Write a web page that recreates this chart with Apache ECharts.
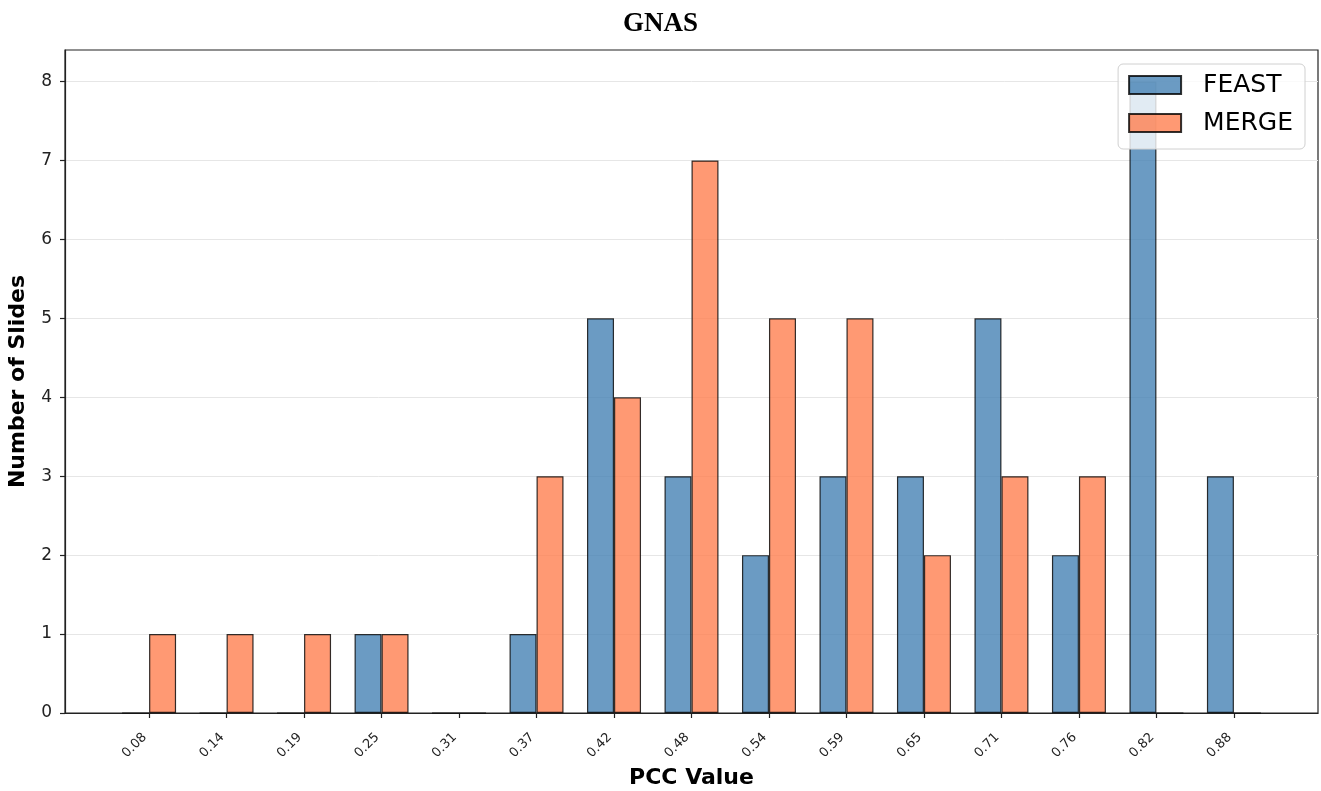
<!DOCTYPE html>
<html>
<head>
<meta charset="utf-8">
<script src="https://cdn.jsdelivr.net/npm/echarts@6/dist/echarts.min.js"></script>
<style>
html,body{margin:0;padding:0;background:#fff;}
#chart{width:1321px;height:791px;}
</style>
</head>
<body>
<div id="chart"></div>
<script>
var categories = ['0.08','0.14','0.19','0.25','0.31','0.37','0.42','0.48','0.54','0.59','0.65','0.71','0.76','0.82','0.88'];
var feast = [0,0,0,1,0,1,5,3,2,3,3,5,2,8,3];
var merge = [1,1,1,1,0,3,4,7,5,5,2,3,3,0,0];
var yTicks = [0,1,2,3,4,5,6,7,8];

var idx = categories.map(function(c,i){return i;});
function pairs(arr){ return arr.map(function(v,i){ return [i, v]; }); }

var chart = echarts.init(document.getElementById('chart'), null, {renderer:'canvas'});
var font = 'DejaVu Sans';
chart.setOption({
  animation:false,
  backgroundColor:'#fff',
  title:{
    text:'GNAS', left:'center', top:6,
    textStyle:{fontFamily:'Liberation Serif', fontWeight:'bold', fontSize:27, color:'#000'}
  },
  grid:{left:65, right:3, top:50, bottom:78, containLabel:false, outerBoundsMode:'none',
    show:true, borderColor:'#222', borderWidth:1.2, backgroundColor:'transparent'},
  legend:{
    orient:'vertical', right:16, top:64, icon:'rect',
    padding:[8,12,13,10], itemGap:12, itemWidth:52, itemHeight:18,
    backgroundColor:'rgba(255,255,255,0.8)', borderColor:'#d0d0d0', borderWidth:1, borderRadius:5,
    textStyle:{fontFamily:font, fontSize:25, lineHeight:26, color:'#000', padding:[0,0,0,17]},
    data:['FEAST','MERGE']
  },
  xAxis:{
    type:'value', min:-1.085, max:15.085,
    name:'PCC Value', nameLocation:'middle', nameGap:51,
    nameTextStyle:{fontFamily:font, fontWeight:'bold', fontSize:22, color:'#000'},
    axisLine:{show:true, onZero:false, lineStyle:{color:'#222', width:1.2}},
    axisTick:{show:true, length:5, customValues:idx, lineStyle:{color:'#222', width:1.2}},
    axisLabel:{customValues:idx, rotate:45, margin:18, padding:[0,6,0,0], fontFamily:font, fontSize:13, color:'#222',
      formatter:function(v){ return categories[Math.round(v)]; }},
    splitLine:{show:false}
  },
  yAxis:{
    type:'value', min:0, max:8.4, interval:1,
    name:'Number of Slides', nameLocation:'middle', nameGap:36,
    nameTextStyle:{fontFamily:font, fontWeight:'bold', fontSize:22, color:'#000'},
    axisLine:{show:true, onZero:false, lineStyle:{color:'#222', width:1.2}},
    axisTick:{show:true, length:5, customValues:yTicks, lineStyle:{color:'#222', width:1.2}},
    axisLabel:{customValues:yTicks, margin:13, fontFamily:font, fontSize:17, color:'#222'},
    splitLine:{show:true, lineStyle:{color:'#e6e6e6', width:1}}
  },
  series:[
    {name:'FEAST', type:'bar', data:pairs(feast), barWidth:27, barGap:'0%',
      itemStyle:{color:'rgba(70,130,180,0.8)', borderColor:'rgba(0,0,0,0.8)', borderWidth:1.2}},
    {name:'MERGE', type:'bar', data:pairs(merge), barWidth:27, barGap:'0%',
      itemStyle:{color:'rgba(255,127,80,0.8)', borderColor:'rgba(0,0,0,0.8)', borderWidth:1.2}}
  ]
});
</script>
</body>
</html>
